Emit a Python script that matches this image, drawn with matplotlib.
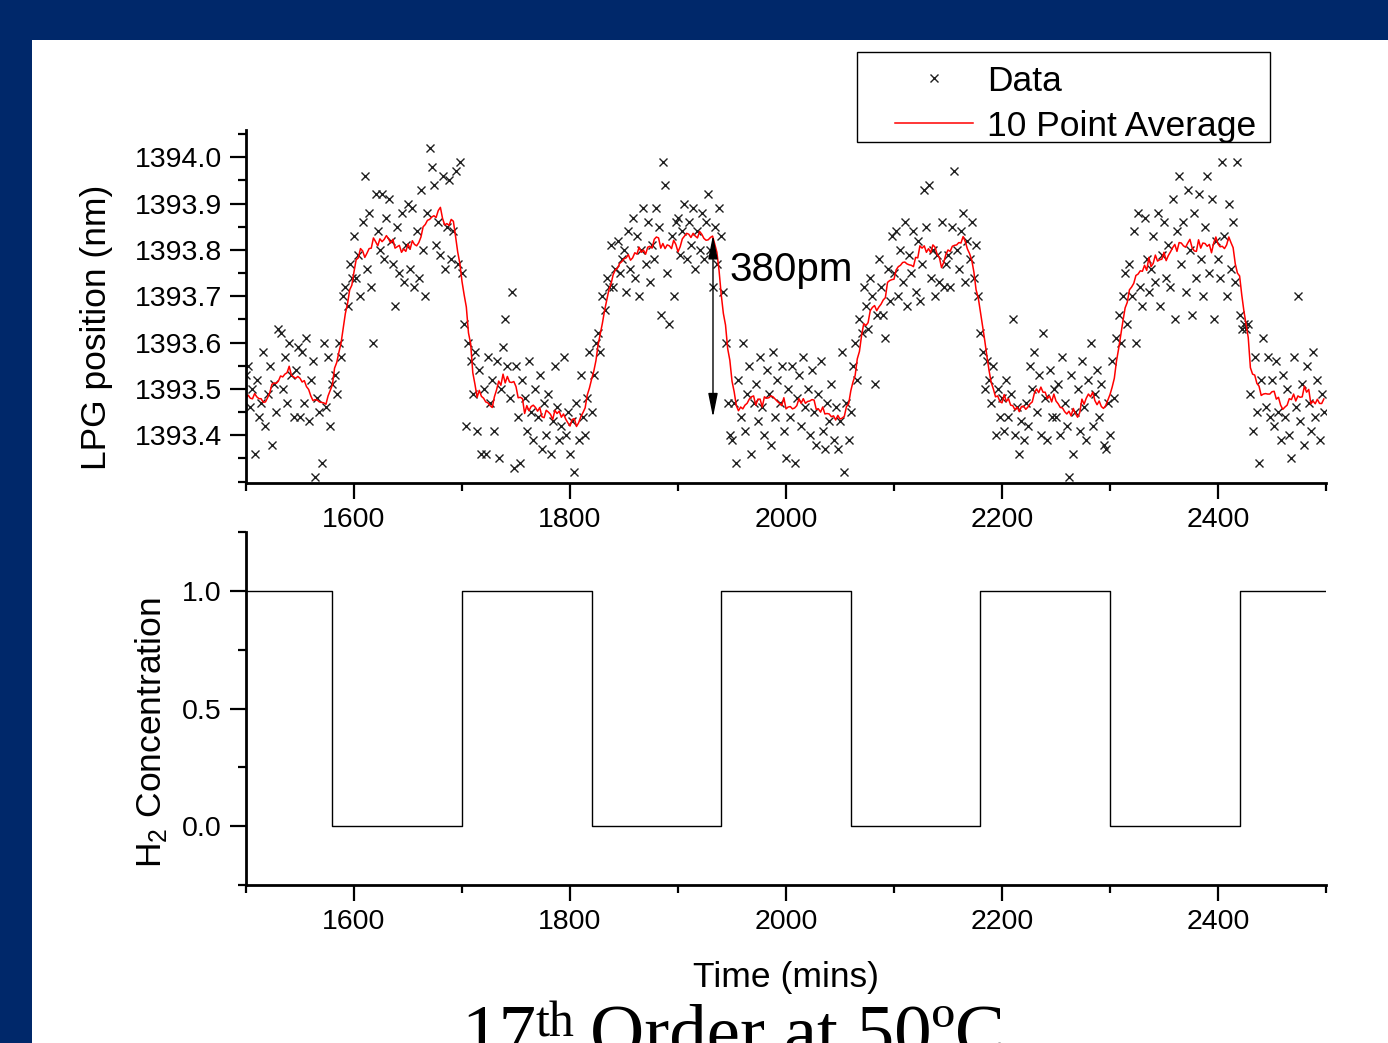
import numpy as np
import pandas as pd
import matplotlib
matplotlib.use("Agg")
import matplotlib.pyplot as plt
from matplotlib.patches import Rectangle
from matplotlib.ticker import MultipleLocator, FixedLocator, FormatStrFormatter

plt.rcParams['font.family'] = 'Liberation Sans'
plt.rcParams['mathtext.fontset'] = 'custom'
plt.rcParams['mathtext.rm'] = 'Liberation Sans'

# sampling: one reading every 2 mins from 1500
t_start = 1500
t_step = 2

# LPG peak position (nm), rows of 25 readings = 50 mins each
lpg = [
    # 1500
    1393.53, 1393.55, 1393.46, 1393.50, 1393.36, 1393.52, 1393.44, 1393.47, 1393.58, 1393.42, 1393.49, 1393.55, 1393.38,
    1393.51, 1393.45, 1393.63, 1393.62, 1393.50, 1393.57, 1393.47, 1393.60, 1393.53, 1393.44, 1393.54, 1393.59,
    # 1550
    1393.44, 1393.58, 1393.47, 1393.61, 1393.43, 1393.52, 1393.56, 1393.31, 1393.48, 1393.45, 1393.34, 1393.60, 1393.46,
    1393.57, 1393.42, 1393.51, 1393.53, 1393.49, 1393.60, 1393.57, 1393.70, 1393.72, 1393.68, 1393.77, 1393.74,
    # 1600
    1393.83, 1393.74, 1393.79, 1393.70, 1393.86, 1393.96, 1393.76, 1393.88, 1393.72, 1393.60, 1393.92, 1393.84, 1393.80,
    1393.92, 1393.78, 1393.87, 1393.91, 1393.82, 1393.77, 1393.68, 1393.85, 1393.75, 1393.88, 1393.73, 1393.81,
    # 1650
    1393.90, 1393.76, 1393.89, 1393.72, 1393.84, 1393.74, 1393.93, 1393.80, 1393.70, 1393.88, 1394.02, 1393.98, 1393.94,
    1393.81, 1393.86, 1393.79, 1393.96, 1393.76, 1393.85, 1393.95, 1393.78, 1393.84, 1393.97, 1393.77, 1393.99,
    # 1700
    1393.75, 1393.64, 1393.42, 1393.60, 1393.56, 1393.49, 1393.58, 1393.41, 1393.54, 1393.36, 1393.50, 1393.36, 1393.57,
    1393.47, 1393.52, 1393.41, 1393.56, 1393.35, 1393.50, 1393.59, 1393.65, 1393.55, 1393.48, 1393.71, 1393.33,
    # 1750
    1393.55, 1393.44, 1393.34, 1393.52, 1393.48, 1393.41, 1393.56, 1393.45, 1393.39, 1393.50, 1393.44, 1393.53, 1393.37,
    1393.47, 1393.40, 1393.49, 1393.36, 1393.43, 1393.55, 1393.46, 1393.39, 1393.42, 1393.57, 1393.40, 1393.45,
    # 1800
    1393.36, 1393.43, 1393.32, 1393.47, 1393.39, 1393.53, 1393.44, 1393.40, 1393.48, 1393.58, 1393.45, 1393.53, 1393.60,
    1393.62, 1393.58, 1393.70, 1393.67, 1393.74, 1393.72, 1393.81, 1393.72, 1393.76, 1393.82, 1393.75, 1393.78,
    # 1850
    1393.80, 1393.71, 1393.84, 1393.76, 1393.87, 1393.74, 1393.83, 1393.70, 1393.80, 1393.89, 1393.77, 1393.86, 1393.73,
    1393.81, 1393.78, 1393.89, 1393.85, 1393.66, 1393.99, 1393.94, 1393.75, 1393.64, 1393.83, 1393.70, 1393.86,
    # 1900
    1393.87, 1393.79, 1393.84, 1393.90, 1393.78, 1393.86, 1393.81, 1393.89, 1393.76, 1393.84, 1393.80, 1393.88, 1393.78,
    1393.86, 1393.92, 1393.80, 1393.72, 1393.85, 1393.77, 1393.89, 1393.83, 1393.71, 1393.60, 1393.47, 1393.40,
    # 1950
    1393.39, 1393.47, 1393.34, 1393.52, 1393.44, 1393.60, 1393.41, 1393.49, 1393.55, 1393.36, 1393.47, 1393.51, 1393.43,
    1393.57, 1393.46, 1393.40, 1393.54, 1393.49, 1393.38, 1393.58, 1393.44, 1393.52, 1393.47, 1393.55, 1393.41,
    # 2000
    1393.35, 1393.50, 1393.44, 1393.55, 1393.34, 1393.48, 1393.53, 1393.42, 1393.57, 1393.46, 1393.50, 1393.40, 1393.54,
    1393.45, 1393.38, 1393.49, 1393.56, 1393.41, 1393.37, 1393.47, 1393.43, 1393.51, 1393.39, 1393.46, 1393.37,
    # 2050
    1393.43, 1393.58, 1393.32, 1393.47, 1393.39, 1393.45, 1393.55, 1393.60, 1393.52, 1393.65, 1393.62, 1393.72, 1393.68,
    1393.63, 1393.74, 1393.70, 1393.51, 1393.66, 1393.78, 1393.72, 1393.66, 1393.61, 1393.76, 1393.69, 1393.83,
    # 2100
    1393.75, 1393.84, 1393.70, 1393.80, 1393.73, 1393.86, 1393.68, 1393.79, 1393.75, 1393.84, 1393.71, 1393.82, 1393.69,
    1393.77, 1393.93, 1393.85, 1393.94, 1393.74, 1393.80, 1393.70, 1393.79, 1393.73, 1393.86, 1393.72, 1393.77,
    # 2150
    1393.79, 1393.72, 1393.85, 1393.97, 1393.80, 1393.76, 1393.84, 1393.88, 1393.73, 1393.82, 1393.78, 1393.86, 1393.74,
    1393.81, 1393.70, 1393.62, 1393.58, 1393.50, 1393.56, 1393.52, 1393.47, 1393.55, 1393.40, 1393.50, 1393.44,
    # 2200
    1393.48, 1393.41, 1393.52, 1393.44, 1393.49, 1393.65, 1393.40, 1393.46, 1393.36, 1393.43, 1393.39, 1393.47, 1393.42,
    1393.55, 1393.50, 1393.58, 1393.45, 1393.53, 1393.40, 1393.62, 1393.48, 1393.39, 1393.54, 1393.44, 1393.50,
    # 2250
    1393.44, 1393.51, 1393.40, 1393.57, 1393.47, 1393.42, 1393.31, 1393.53, 1393.36, 1393.45, 1393.50, 1393.41, 1393.56,
    1393.46, 1393.39, 1393.52, 1393.60, 1393.42, 1393.49, 1393.54, 1393.44, 1393.51, 1393.38, 1393.37, 1393.47,
    # 2300
    1393.40, 1393.56, 1393.48, 1393.61, 1393.66, 1393.60, 1393.70, 1393.75, 1393.64, 1393.77, 1393.70, 1393.84, 1393.60,
    1393.88, 1393.72, 1393.68, 1393.87, 1393.78, 1393.71, 1393.76, 1393.83, 1393.73, 1393.88, 1393.68, 1393.79,
    # 2350
    1393.86, 1393.74, 1393.81, 1393.72, 1393.91, 1393.65, 1393.84, 1393.96, 1393.77, 1393.86, 1393.71, 1393.93, 1393.80,
    1393.66, 1393.88, 1393.74, 1393.92, 1393.78, 1393.70, 1393.85, 1393.96, 1393.75, 1393.91, 1393.65, 1393.82,
    # 2400
    1393.78, 1393.74, 1393.99, 1393.83, 1393.70, 1393.90, 1393.76, 1393.86, 1393.73, 1393.99, 1393.66, 1393.63, 1393.64,
    1393.63, 1393.64, 1393.49, 1393.41, 1393.57, 1393.45, 1393.34, 1393.52, 1393.61, 1393.46, 1393.57, 1393.44,
    # 2450
    1393.52, 1393.42, 1393.56, 1393.45, 1393.39, 1393.53, 1393.44, 1393.50, 1393.40, 1393.35, 1393.57, 1393.46, 1393.70,
    1393.43, 1393.51, 1393.38, 1393.55, 1393.47, 1393.41, 1393.58, 1393.44, 1393.52, 1393.39, 1393.49, 1393.45,
]

# H2 on/off switching times (mins) and level that starts there
h2_time = [1500, 1580, 1700, 1820, 1940, 2060, 2180, 2300, 2420, 2500]
h2_level = [1, 0, 1, 0, 1, 0, 1, 0, 1, 1]

lpg_ticks = [1393.4, 1393.5, 1393.6, 1393.7, 1393.8, 1393.9, 1394.0]
h2_ticks = [0.0, 0.5, 1.0]

# shift marked by the arrow
shift_time = 1932.4
shift_top = 1393.832
shift_bottom = 1393.439

time = t_start + t_step * np.arange(len(lpg))
avg = pd.Series(lpg).rolling(10, center=True, min_periods=1).mean()

W, H = 1388, 1043
fig = plt.figure(figsize=(W / 100, H / 100), dpi=100)
fig.patch.set_facecolor('#00286a')
fig.add_artist(Rectangle((32 / W, 0), 1 - 32 / W, 1 - 40 / H, transform=fig.transFigure,
                         facecolor='white', edgecolor='none', zorder=-1))

ax1 = fig.add_axes([246 / W, 1 - 483 / H, 1080 / W, 353 / H])
ax2 = fig.add_axes([246 / W, 1 - 885 / H, 1080 / W, 353 / H])

ax1.plot(time, lpg, ls='none', marker='x', ms=5.2, mew=1.0, color='#202020', label='Data')
ax1.plot(time, avg, color='red', lw=1.1, label='10 Point Average')
ax2.step(h2_time, h2_level, where='post', color='black', lw=1.0)

for ax in (ax1, ax2):
    ax.set_facecolor('none')
    ax.spines[['top', 'right']].set_visible(False)
    ax.spines['left'].set_linewidth(2)
    ax.spines['bottom'].set_linewidth(2)
    ax.set_xlim(1500, 2500)
    ax.xaxis.set_major_locator(MultipleLocator(200))
    ax.xaxis.set_minor_locator(MultipleLocator(100))
    ax.tick_params(which='major', direction='out', length=11.5, width=1.6, labelsize=20.5)
    ax.tick_params(which='minor', direction='out', length=6, width=1.6)
    ax.tick_params(axis='x', which='major', pad=6)
    ax.tick_params(axis='y', which='major', pad=6)
    ax.yaxis.set_major_formatter(FormatStrFormatter('%.1f'))

ax1.set_ylim(1393.297, 1394.059)
ax1.yaxis.set_major_locator(FixedLocator(lpg_ticks))
ax1.yaxis.set_minor_locator(MultipleLocator(0.05))
ax2.set_ylim(-0.25, 1.25)
ax2.yaxis.set_major_locator(FixedLocator(h2_ticks))
ax2.yaxis.set_minor_locator(MultipleLocator(0.25))

ax1.set_ylabel('LPG position (nm)', fontsize=25.5)
ax1.yaxis.set_label_coords(-0.123, 0.4405)
ax2.set_ylabel('H$_{\\mathrm{2}}$ Concentration', fontsize=25.5)
ax2.yaxis.set_label_coords(-0.0713, 0.432)
ax2.set_xlabel('Time (mins)', fontsize=25.5)
ax2.xaxis.set_label_coords(0.5, -0.216)

ax1.annotate('', xy=(shift_time, shift_bottom), xytext=(shift_time, shift_top),
             arrowprops=dict(arrowstyle='<|-|>,head_length=1.45,head_width=0.29',
                             color='black', lw=1.0, shrinkA=0, shrinkB=0, mutation_scale=10))
ax1.text(1948.1, 1393.734, '380pm', fontsize=29, ha='left', va='baseline')

# legend box drawn separately so its padding matches the slide
fig.add_artist(Rectangle((857 / W, 1 - 142 / H), 413 / W, 90 / H, transform=fig.transFigure,
                         facecolor='white', edgecolor='black', lw=1.0, zorder=4))
leg = fig.legend(loc='upper right', bbox_to_anchor=(1267 / W, 1 - 54 / H), fontsize=25.5,
                 frameon=False, borderpad=0.3, labelspacing=0.34, handlelength=2.2,
                 handletextpad=0.4, borderaxespad=0)
leg.set_zorder(5)

serif = 'Liberation Serif'
fig.text(461 / W, (H - 1056) / H, '17', fontsize=54, family=serif, ha='left', va='baseline')
fig.text(536 / W, (H - 1036.5) / H, 'th', fontsize=36, family=serif, ha='left', va='baseline')
fig.text(590 / W, (H - 1056) / H, 'Order at 50ºC', fontsize=54, family=serif, ha='left', va='baseline')

fig.savefig('out.png', dpi=100)
